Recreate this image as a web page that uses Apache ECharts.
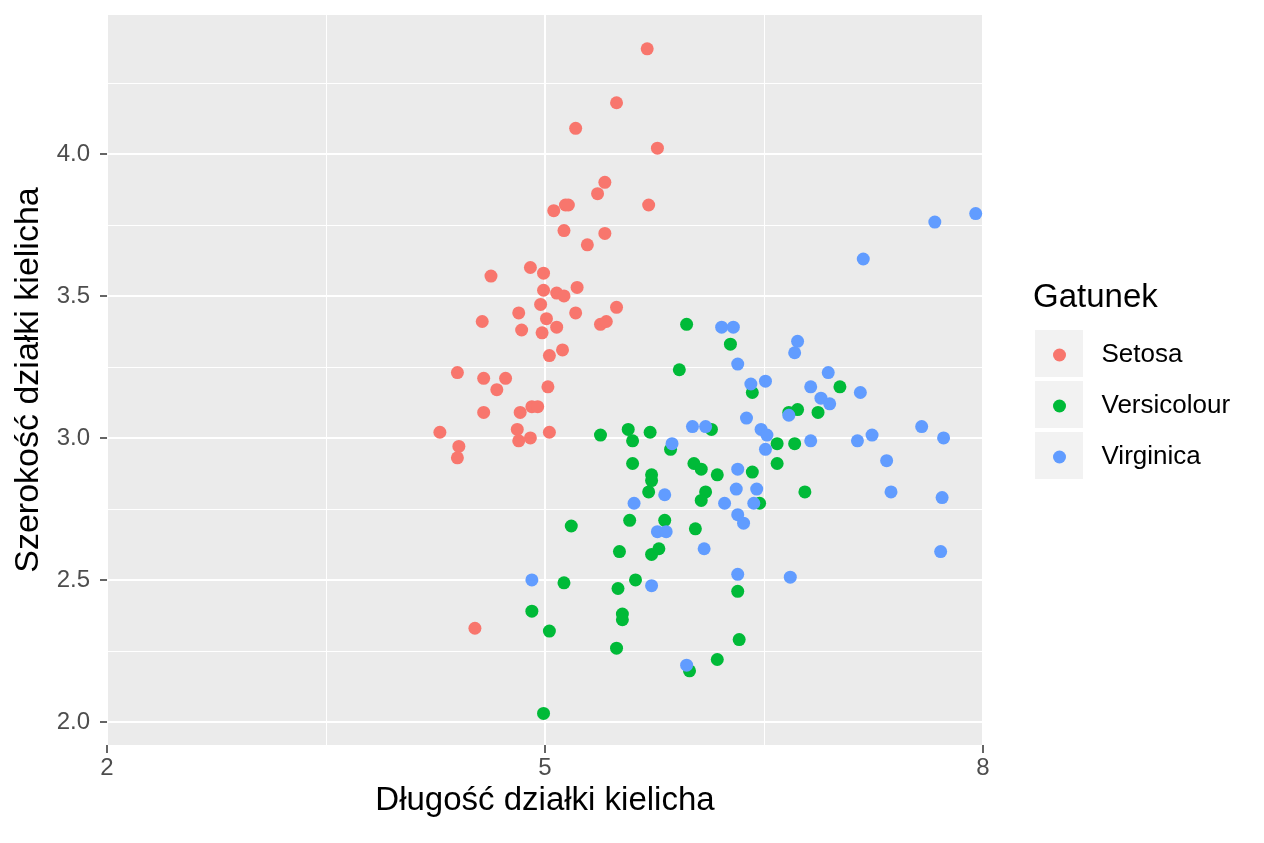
<!DOCTYPE html>
<html>
<head>
<meta charset="utf-8">
<title>Iris – długość i szerokość działki kielicha</title>
<script src="https://cdn.jsdelivr.net/npm/echarts@6/dist/echarts.min.js"></script>
<style>
  html, body { margin: 0; padding: 0; background: #fff; }
  #chart { width: 1264px; height: 843px; }
</style>
</head>
<body>
<div id="chart"></div>
<script>
// values (jittered iris sepal length / width)
var species = ['Setosa', 'Versicolour', 'Virginica'];
var colors = ['#F8766D', '#00BA38', '#619CFF'];

var setosaX = [5.70, 5.49, 5.21, 5.77, 5.41, 5.36, 5.14, 5.06, 5.71, 5.13,
  5.41, 5.29, 4.63, 4.90, 4.99, 5.22, 4.99, 5.08, 5.13, 4.97,
  5.49, 4.82, 5.21, 4.57, 5.01, 5.38, 5.42, 4.84, 5.08, 4.98,
  5.12, 5.03, 4.40, 4.58, 4.73, 4.67, 5.02, 4.91, 4.95, 4.58,
  4.83, 4.28, 4.81, 5.03, 4.90, 4.82, 4.41, 4.40, 4.52, 5.16];
var setosaY = [4.37, 4.18, 4.09, 4.02, 3.90, 3.86, 3.82, 3.80, 3.82, 3.73,
  3.72, 3.68, 3.57, 3.60, 3.58, 3.53, 3.52, 3.51, 3.50, 3.47,
  3.46, 3.44, 3.44, 3.41, 3.42, 3.40, 3.41, 3.38, 3.39, 3.37,
  3.31, 3.29, 3.23, 3.21, 3.21, 3.17, 3.18, 3.11, 3.11, 3.09,
  3.09, 3.02, 3.03, 3.02, 3.00, 2.99, 2.97, 2.93, 2.33, 3.82];

var versicolourX = [5.97, 5.92, 6.27, 6.42, 7.02, 6.67, 6.73, 6.87, 6.14, 6.59,
  6.71, 5.38, 5.57, 5.72, 5.60, 5.86, 5.60, 6.02, 6.07, 5.73,
  5.73, 5.71, 6.59, 6.42, 6.18, 6.10, 6.07, 6.78, 6.47, 5.58,
  5.82, 5.18, 6.03, 5.51, 5.73, 5.78, 5.62, 5.50, 5.13, 4.91,
  5.53, 5.53, 5.03, 5.49, 6.32, 6.33, 6.18, 5.99, 4.99];
var versicolourY = [3.40, 3.24, 3.33, 3.16, 3.18, 3.09, 3.10, 3.09, 3.03, 2.98,
  2.98, 3.01, 3.03, 3.02, 2.99, 2.96, 2.91, 2.91, 2.89, 2.87,
  2.85, 2.81, 2.91, 2.88, 2.87, 2.81, 2.78, 2.81, 2.77, 2.71,
  2.71, 2.69, 2.68, 2.60, 2.59, 2.61, 2.50, 2.47, 2.49, 2.39,
  2.38, 2.36, 2.32, 2.26, 2.46, 2.29, 2.22, 2.18, 2.03];

var virginicaX = [7.95, 7.67, 7.18, 6.21, 6.29, 6.73, 6.71, 6.32, 6.94, 6.51,
  6.41, 6.82, 7.16, 6.89, 6.95, 6.67, 6.38, 6.01, 6.10, 6.48,
  6.52, 7.58, 7.73, 7.14, 7.24, 6.82, 6.51, 5.87, 7.34, 6.32,
  6.31, 6.45, 7.37, 7.72, 5.82, 5.61, 6.23, 6.43, 6.32, 6.36,
  5.77, 5.83, 6.09, 7.71, 4.91, 5.73, 6.32, 6.68, 5.97];
var virginicaY = [3.79, 3.76, 3.63, 3.39, 3.39, 3.34, 3.30, 3.26, 3.23, 3.20,
  3.19, 3.18, 3.16, 3.14, 3.12, 3.08, 3.07, 3.04, 3.04, 3.03,
  3.01, 3.04, 3.00, 2.99, 3.01, 2.99, 2.96, 2.98, 2.92, 2.89,
  2.82, 2.82, 2.81, 2.79, 2.80, 2.77, 2.77, 2.77, 2.73, 2.70,
  2.67, 2.67, 2.61, 2.60, 2.50, 2.48, 2.52, 2.51, 2.20];

var xTicks = [2, 5, 8];
var yTicks = [2.0, 2.5, 3.0, 3.5, 4.0];
var yMinorTicks = [2.25, 2.75, 3.25, 3.75, 4.25];

var seriesX = [setosaX, versicolourX, virginicaX];
var seriesY = [setosaY, versicolourY, virginicaY];

var FONT = '"Liberation Sans", Arial, sans-serif';

function zip(xs, ys) {
  return xs.map(function (x, i) { return [x, ys[i]]; });
}

var chart = echarts.init(document.getElementById('chart'), null, { renderer: 'canvas' });

var option = {
  animation: false,
  textStyle: { fontFamily: FONT },
  title: {
    text: 'Gatunek',
    left: 1033,
    top: 281,
    padding: 0,
    textStyle: { fontFamily: FONT, fontSize: 33, fontWeight: 'normal', color: '#000' }
  },
  legend: {
    orient: 'vertical',
    left: 1048,
    top: 337,
    itemWidth: 48,
    itemHeight: 13,
    itemGap: 25,
    icon: 'circle',
    data: species,
    // a fixed-width spacer token moves the label to where ggplot puts it
    formatter: function (name) { return '{s| }{t|' + name + '}'; },
    textStyle: {
      fontFamily: FONT, fontSize: 26, color: '#000',
      rich: {
        s: { width: 13, fontSize: 26 },
        t: { fontFamily: FONT, fontSize: 26, color: '#000' }
      }
    }
  },
  // grey key backgrounds behind the legend dots
  graphic: [0, 1, 2].map(function (i) {
    return {
      type: 'rect',
      left: 1035,
      top: 330 + i * 51,
      z: -1,
      shape: { width: 48, height: 47 },
      style: { fill: '#F2F2F2' }
    };
  }),
  grid: {
    left: 107,
    right: 281,
    top: 15,
    bottom: 98,
    show: true,
    backgroundColor: '#EBEBEB',
    borderWidth: 0
  },
  xAxis: {
    type: 'value',
    min: xTicks[0],
    max: xTicks[xTicks.length - 1],
    interval: 3,
    name: 'Długość działki kielicha',
    nameLocation: 'middle',
    nameGap: 36,
    nameTextStyle: { fontFamily: FONT, fontSize: 33, color: '#000' },
    axisLine: { show: false },
    axisTick: { show: true, length: 8, lineStyle: { color: '#333', width: 1.5 } },
    axisLabel: { fontFamily: FONT, fontSize: 24, color: '#4D4D4D', margin: 11 },
    splitLine: { show: true, lineStyle: { color: '#fff', width: 2 } },
    minorTick: { show: false, splitNumber: 2 },
    minorSplitLine: { show: true, lineStyle: { color: '#fff', width: 1 } }
  },
  yAxis: [{
    type: 'value',
    min: 1.919,
    max: 4.489,
    name: 'Szerokość działki kielicha',
    nameLocation: 'middle',
    nameGap: 59,
    nameTextStyle: { fontFamily: FONT, fontSize: 34, color: '#000' },
    axisLine: { show: false },
    axisTick: { show: true, length: 7, customValues: yTicks, lineStyle: { color: '#333', width: 1.5 } },
    axisLabel: {
      customValues: yTicks,
      fontFamily: FONT, fontSize: 24, color: '#4D4D4D', margin: 17,
      formatter: function (v) { return v.toFixed(1); }
    },
    splitLine: { show: true, lineStyle: { color: '#fff', width: 2 } }
  }, {
    type: 'value',
    min: 1.919,
    max: 4.489,
    position: 'left',
    axisLine: { show: false },
    axisTick: { show: false, customValues: yMinorTicks },
    axisLabel: { show: false, customValues: yMinorTicks },
    splitLine: { show: true, lineStyle: { color: '#fff', width: 1 } }
  }],
  series: species.map(function (name, i) {
    return {
      name: name,
      type: 'scatter',
      yAxisIndex: 0,
      symbol: 'circle',
      symbolSize: 13,
      itemStyle: { color: colors[i], opacity: 1 },
      emphasis: { disabled: true },
      data: zip(seriesX[i], seriesY[i])
    };
  })
};

chart.setOption(option);
window.addEventListener('resize', function () { chart.resize(); });
</script>
</body>
</html>
